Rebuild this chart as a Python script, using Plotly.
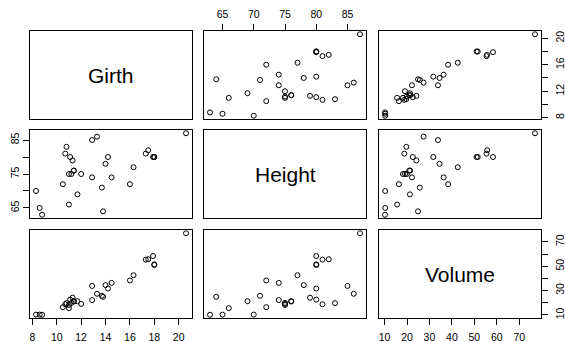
import plotly.graph_objects as go

girth = [8.3, 8.6, 8.8, 10.5, 10.7, 10.8, 11.0, 11.0, 11.1, 11.2, 11.3, 11.4, 11.4, 11.7, 12.0, 12.9,
         12.9, 13.3, 13.7, 13.8, 14.0, 14.2, 14.5, 16.0, 16.3, 17.3, 17.5, 17.9, 18.0, 18.0, 20.6]
height = [70, 65, 63, 72, 81, 83, 66, 75, 80, 75, 79, 76, 76, 69, 75, 74,
          85, 86, 71, 64, 78, 80, 74, 72, 77, 81, 82, 80, 80, 80, 87]
volume = [10.3, 10.3, 10.2, 16.4, 18.8, 19.7, 15.6, 18.2, 22.6, 19.9, 24.2, 21.0, 21.4, 21.3, 19.1, 22.2,
          33.8, 27.4, 25.7, 24.9, 34.5, 31.7, 36.3, 38.3, 42.6, 55.4, 55.7, 58.3, 51.5, 51.0, 77.0]
names = ["Girth", "Height", "Volume"]
tick_vals = [[8, 10, 12, 14, 16, 18, 20], [65, 70, 75, 80, 85], [10, 20, 30, 40, 50, 60, 70]]
tick_text_full = [[str(v) for v in t] for t in tick_vals]
tick_text_sparse = [["8", "", "12", "", "16", "", "20"], ["65", "", "75", "", "85"],
                    ["10", "", "30", "", "50", "", "70"]]

data = [girth, height, volume]
W, H = 565, 342
col_px = [(30, 192), (204, 366), (379, 541)]
row_px = [(31, 119), (130, 218), (230, 318)]
FONT = "Liberation Sans, Arial, sans-serif"


def rng(v):
    lo, hi = min(v), max(v)
    p = (hi - lo) * 0.04
    return [lo - p, hi + p]


fig = go.Figure()
layout = {}
annotations = []
for i in range(3):
    for j in range(3):
        k = i * 3 + j + 1
        xs = "" if k == 1 else str(k)
        xname, yname = "x" + xs, "y" + xs
        xr = rng(data[j]) if i != j else rng(data[i])
        yr = rng(data[i])
        if i != j:
            fig.add_trace(go.Scatter(x=data[j], y=data[i], mode="markers", xaxis=xname, yaxis=yname,
                                     marker=dict(symbol="circle-open", size=5, color="black",
                                                 line=dict(width=1, color="black")),
                                     showlegend=False, hoverinfo="skip"))
        else:
            fig.add_trace(go.Scatter(x=[], y=[], mode="markers", xaxis=xname, yaxis=yname, showlegend=False))
            annotations.append(dict(text=names[i], xref=xname + " domain", yref=yname + " domain",
                                    x=0.5, y=0.5, showarrow=False,
                                    font=dict(size=21, family=FONT, color="black")))
        base = dict(showline=True, mirror=True, linecolor="black", linewidth=1, showgrid=False,
                    zeroline=False, showticklabels=False, ticks="", fixedrange=True, automargin=False)
        xa = dict(base, domain=[col_px[j][0] / W, col_px[j][1] / W], range=xr, anchor=yname)
        ya = dict(base, domain=[1 - row_px[i][1] / H, 1 - row_px[i][0] / H], range=yr, anchor=xname)
        tick_style = dict(ticks="outside", ticklen=6, tickwidth=1, tickcolor="black", showticklabels=True,
                          tickfont=dict(size=10.5, family=FONT, color="black"))
        if (i == 2 and j in (0, 2)) or (i == 0 and j == 1):
            xa.update(tick_style, tickmode="array", tickvals=tick_vals[j], ticktext=tick_text_full[j],
                      side="bottom" if i == 2 else "top", ticklabelstandoff=3 if i == 2 else 2)
        if (j == 2 and i in (0, 2)) or (j == 0 and i == 1):
            ya.update(tick_style, tickmode="array", tickvals=tick_vals[i], ticktext=tick_text_sparse[i],
                      side="right" if j == 2 else "left", tickangle=-90,
                      ticklabelstandoff=3 if j == 2 else 0)
        layout["xaxis" + xs] = xa
        layout["yaxis" + xs] = ya

fig.update_layout(**layout)
fig.update_layout(width=W, height=H, margin=dict(l=0, r=0, t=0, b=0, autoexpand=False),
                  plot_bgcolor="white", paper_bgcolor="white", annotations=annotations, showlegend=False,
                  font=dict(family=FONT, color="black"))
fig.write_html("out.html", config={"displayModeBar": False},
               post_script="document.body.style.margin='0';document.body.style.overflow='hidden';")
